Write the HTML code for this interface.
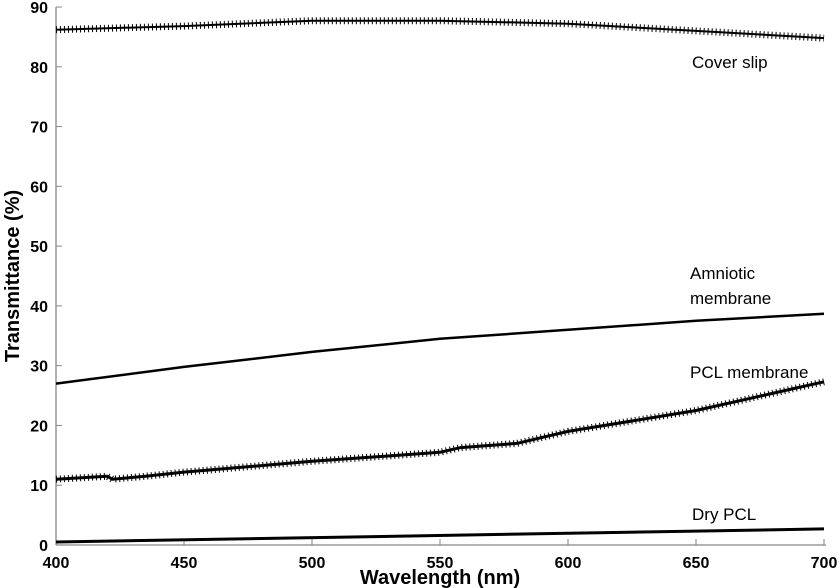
<!DOCTYPE html>
<html><head><meta charset="utf-8"><style>
body{margin:0;background:#fff;}
svg{display:block;font-family:"Liberation Sans",sans-serif;}
</style></head><body>
<svg id="chart" width="840" height="588">
<g id="axes"></g><g id="series"></g>
<text x="692" y="68" font-size="17">Cover slip</text>
<text x="690" y="279" font-size="17">Amniotic</text>
<text x="690" y="304" font-size="17">membrane</text>
<text x="690" y="378" font-size="17">PCL membrane</text>
<text x="692" y="520" font-size="17">Dry PCL</text>
<text x="440" y="584" font-size="20" font-weight="bold" text-anchor="middle">Wavelength (nm)</text>
<text transform="translate(19,276) rotate(-90)" font-size="20" font-weight="bold" text-anchor="middle">Transmittance (%)</text>
</svg>
<script>
const xTicks=[400,450,500,550,600,650,700];
const yTicks=[0,10,20,30,40,50,60,70,80,90];
const coverX=[400,450,500,550,600,650,700];
const coverY=[86.2,86.8,87.7,87.7,87.2,86,84.8];
const amnX=[400,450,500,550,600,650,700];
const amnY=[27,29.8,32.3,34.5,36,37.5,38.7];
const pclX=[400,420,422,435,450,500,550,558,580,600,650,700];
const pclY=[11,11.5,11,11.5,12.2,14,15.5,16.3,17,19,22.5,27.3];
const dryX=[400,700];
const dryY=[0.5,2.7];
const sx=v=>56+(v-400)*768/300;
const sy=v=>545-v*538/90;
const NS="http://www.w3.org/2000/svg";
const ax=document.getElementById('axes'),se=document.getElementById('series');
function mk(p,t,a){const e=document.createElementNS(NS,t);for(const k in a)e.setAttribute(k,a[k]);p.appendChild(e);return e;}
let l=mk(ax,'line',{x1:56,y1:7,x2:56,y2:545,stroke:'#888','stroke-width':1.3});


l=mk(ax,'line',{x1:56,y1:545,x2:826,y2:545,stroke:'#888','stroke-width':1.3});


xTicks.forEach(v=>{
 let t=mk(ax,'line',{x1:sx(v),x2:sx(v),y1:545,y2:539,stroke:'#888'});
 
 
 let tx=mk(ax,'text',{x:sx(v),y:568,'font-size':16,'font-weight':'bold','text-anchor':'middle'});
 tx.textContent=v;
 
 
});
yTicks.forEach(v=>{
 let t=mk(ax,'line',{x1:56,x2:62,y1:sy(v),y2:sy(v),stroke:'#888'});
 
 
 let tx=mk(ax,'text',{x:48,y:sy(v)+6,'font-size':16,'font-weight':'bold','text-anchor':'end'});
 tx.textContent=v;
 
 
});
function line(xs,ys,name,w,dash){
 const d=xs.map((x,i)=>(i?'L':'M')+sx(x).toFixed(1)+','+sy(ys[i]).toFixed(1)).join(' ');
 let p=mk(se,'path',{d:d,fill:'none',stroke:'#000','stroke-width':w});
 
 
 if(dash){let q=mk(se,'path',{d:d,fill:'none',stroke:'#000','stroke-width':7,'stroke-dasharray':'1 3'});
 
 }
}
line(coverX,coverY,'series-cover-slip',2,true);
line(amnX,amnY,'series-amniotic-membrane',2.5,false);
line(pclX,pclY,'series-pcl-membrane',3,true);
line(dryX,dryY,'series-dry-pcl',3,false);
</script>
</body></html>
